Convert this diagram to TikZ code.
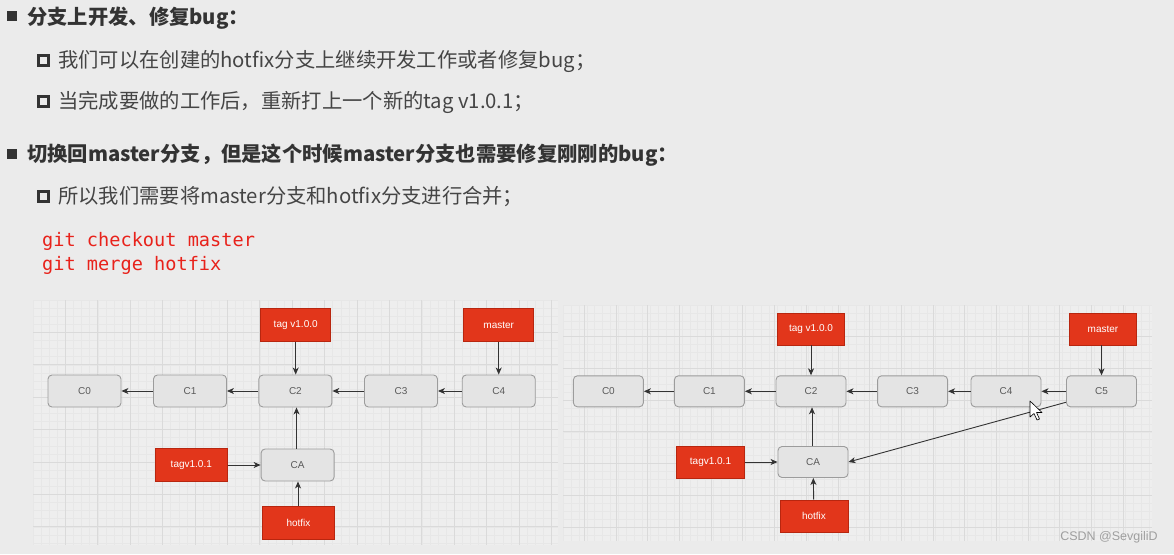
\documentclass[tikz,border=0pt]{standalone}
\usepackage{fontspec}
\setmainfont{Noto Sans CJK SC}
\newfontfamily\nodefont{Liberation Sans}
\newfontfamily\codefont{DejaVu Sans Mono}
\usetikzlibrary{arrows.meta}
\definecolor{bgcol}{HTML}{EBEBEB}
\definecolor{panelcol}{HTML}{EEEEEE}
\definecolor{minorcol}{HTML}{E7E7E7}
\definecolor{majorcol}{HTML}{DADADA}
\definecolor{commitfill}{HTML}{E4E4E4}
\definecolor{commitdraw}{HTML}{9C9C9C}
\definecolor{committext}{HTML}{5A5A5A}
\definecolor{tagred}{HTML}{E2361B}
\definecolor{tagdraw}{HTML}{B8260F}
\definecolor{arrowcol}{HTML}{333333}
\definecolor{headcol}{HTML}{333333}
\definecolor{subcol}{HTML}{454545}
\definecolor{codered}{HTML}{E8221B}
\tikzset{
  commit/.style={draw=commitdraw, fill=commitfill, rounded corners=4pt, line width=0.9pt,
    minimum height=32pt, inner sep=0pt, text=committext, font=\nodefont\fontsize{10}{12}\selectfont},
  redtag/.style={draw=tagdraw, fill=tagred, line width=0.6pt, minimum height=33pt, inner sep=0pt,
    text=white, font=\nodefont\fontsize{10}{12}\selectfont},
  link/.style={draw=arrowcol, line width=0.9pt, -{Stealth[length=7pt,width=6pt,inset=2pt]}},
  headtxt/.style={anchor=base west, inner sep=0pt, text=headcol, font=\fontsize{20.3}{22}\selectfont\bfseries},
  subtxt/.style={anchor=base west, inner sep=0pt, text=subcol, font=\fontsize{20.3}{22}\selectfont},
  codetxt/.style={anchor=base west, inner sep=0pt, text=codered, font=\codefont\fontsize{18.6}{22}\selectfont},
}
\begin{document}
\begin{tikzpicture}[x=1pt,y=-1pt]
\useasboundingbox (0,0) rectangle (1174,554);
\fill[bgcol] (0,0) rectangle (1174,554);
% ---------- text ----------
\fill[headcol] (7,11) rectangle (17,21);
\node[headtxt] (h1) at (27,24.6) {分支上开发、修复bug：};
\draw[headcol, line width=2.6pt] (38.5,55.5) rectangle (48.5,65.5);
\node[subtxt] (s1) at (58,67.6) {我们可以在创建的hotfix分支上继续开发工作或者修复bug；};
\draw[headcol, line width=2.6pt] (38.5,96.5) rectangle (48.5,106.5);
\node[subtxt] (s2) at (58,108.6) {当完成要做的工作后，重新打上一个新的tag v1.0.1；};
\fill[headcol] (7,149) rectangle (17,159);
\node[headtxt] (h2) at (27,161.6) {切换回master分支，但是这个时候master分支也需要修复刚刚的bug：};
\draw[headcol, line width=2.6pt] (38.5,191.5) rectangle (48.5,201.5);
\node[subtxt] (s3) at (58,203.6) {所以我们需要将master分支和hotfix分支进行合并；};
\node[codetxt] (k1) at (42,246) {git checkout master};
\node[codetxt] (k2) at (42,270) {git merge hotfix};
% ---------- panels ----------
\fill[panelcol] (33,300) rectangle (558,545);
\foreach \i in {0,...,64} {\draw[minorcol, line width=0.5pt] (33+8.1*\i,300) -- (33+8.1*\i,545);}
\foreach \j in {0,...,30} {\draw[minorcol, line width=0.5pt] (33,300+8.1*\j) -- (558,300+8.1*\j);}
\foreach \i in {1,...,16} {\draw[majorcol, line width=0.7pt] (33+32.4*\i,300) -- (33+32.4*\i,545);}
\foreach \j in {1,...,7} {\draw[majorcol, line width=0.7pt] (33,300+32.4*\j) -- (558,300+32.4*\j);}
\fill[panelcol] (563,305) rectangle (1152,541);
\foreach \i in {0,...,74} {\draw[minorcol, line width=0.5pt] (563+7.925*\i,305) -- (563+7.925*\i,541);}
\foreach \j in {0,...,29} {\draw[minorcol, line width=0.5pt] (563,305+7.925*\j) -- (1152,305+7.925*\j);}
\foreach \i in {0,...,17} {\draw[majorcol, line width=0.7pt] (584.3+31.7*\i,305) -- (584.3+31.7*\i,541);}
\foreach \j in {1,...,7} {\draw[majorcol, line width=0.7pt] (563,305+31.7*\j) -- (1152,305+31.7*\j);}
% ---------- left diagram ----------
\node[commit, minimum width=73pt] (L0) at (84.5,391) {C0};
\node[commit, minimum width=73pt] (L1) at (190,391) {C1};
\node[commit, minimum width=73pt] (L2) at (295.4,391) {C2};
\node[commit, minimum width=73pt] (L3) at (401,391) {C3};
\node[commit, minimum width=73pt] (L4) at (498.7,391) {C4};
\node[redtag, minimum width=70pt] (Ltag) at (295.7,325) {tag v1.0.0};
\node[redtag, minimum width=70pt] (Lmaster) at (498.7,325) {master};
\node[commit, minimum width=73pt] (LA) at (297.6,465) {CA};
\node[redtag, minimum width=72pt] (Ltag2) at (191.3,465) {tagv1.0.1};
\node[redtag, minimum width=72pt] (Lhot) at (298.5,523) {hotfix};
\draw[link] (L1) -- (L0);
\draw[link] (L2) -- (L1);
\draw[link] (L3) -- (L2);
\draw[link] (L4) -- (L3);
\draw[link] (Ltag.south) -- (Ltag.south |- L2.north);
\draw[link] (Lmaster) -- (L4);
\draw[link] (LA.north -| 296.5,0) -- (L2.south -| 296.5,0);
\draw[link] (Ltag2) -- (LA);
\draw[link] (Lhot.north -| 298,0) -- (LA.south -| 298,0);
% ---------- right diagram ----------
\node[commit, minimum width=70pt, minimum height=31pt] (R0) at (608.4,391.3) {C0};
\node[commit, minimum width=70pt, minimum height=31pt] (R1) at (709.4,391.3) {C1};
\node[commit, minimum width=70pt, minimum height=31pt] (R2) at (811,391.3) {C2};
\node[commit, minimum width=70pt, minimum height=31pt] (R3) at (912.6,391.3) {C3};
\node[commit, minimum width=70pt, minimum height=31pt] (R4) at (1006,391.3) {C4};
\node[commit, minimum width=70pt, minimum height=31pt] (R5) at (1101.5,391.3) {C5};
\node[redtag, minimum width=67pt, minimum height=32pt] (Rtag) at (811,329) {tag v1.0.0};
\node[redtag, minimum width=67pt, minimum height=32pt] (Rmaster) at (1103,329) {master};
\node[commit, minimum width=70pt, minimum height=31pt] (RA) at (813,462) {CA};
\node[redtag, minimum width=68pt, minimum height=32pt] (Rtag2) at (710.5,462) {tagv1.0.1};
\node[redtag, minimum width=68pt, minimum height=32pt] (Rhot) at (814,516) {hotfix};
\draw[link] (R1) -- (R0);
\draw[link] (R2) -- (R1);
\draw[link] (R3) -- (R2);
\draw[link] (R4) -- (R3);
\draw[link] (R5) -- (R4);
\draw[link] (Rtag.south) -- (Rtag.south |- R2.north);
\draw[link] (Rmaster.south -| 1101.5,0) -- (R5.north -| 1101.5,0);
\draw[link] (RA.north -| 812,0) -- (R2.south -| 812,0);
\draw[link] (Rtag2) -- (RA);
\draw[link] (Rhot) -- (RA);
\draw[link] ([yshift=5pt]R5.south west) -- (RA.east);
% mouse cursor
\draw[black, fill=white, line width=0.6pt, line join=round]
  (1030,401) -- (1030,417) -- (1034,413.5) -- (1037,420) -- (1039.5,419) -- (1036.5,412.5) -- (1042,412.5) -- cycle;
% watermark
\node[text=gray!75, font=\nodefont\fontsize{12.5}{14}\selectfont, anchor=center, inner sep=0pt] (wm) at (1109,537) {CSDN @SevgiliD};
\end{tikzpicture}
\end{document}
